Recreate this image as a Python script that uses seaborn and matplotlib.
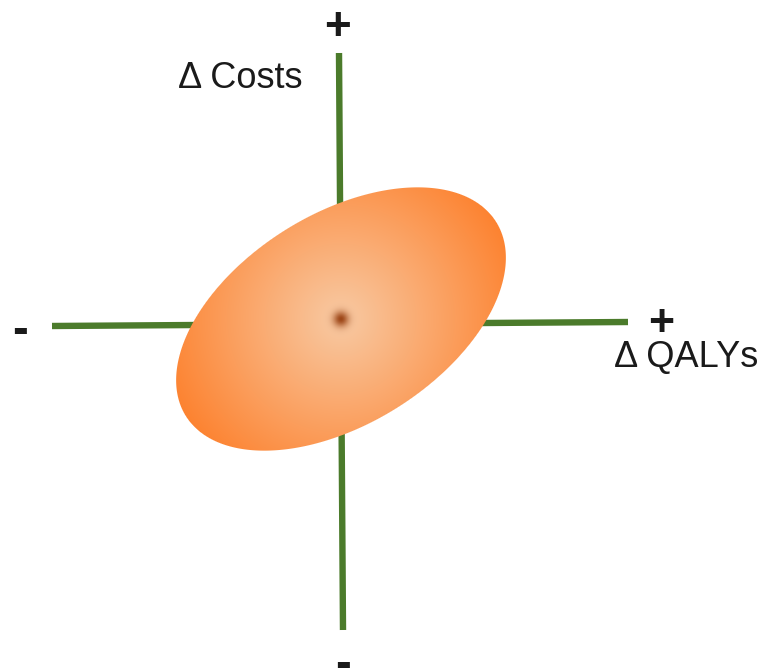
import numpy as np
import pandas as pd
import matplotlib
matplotlib.use('Agg')
import matplotlib.pyplot as plt
import seaborn as sns

# canvas in pixel units (y grows downward)
W, H = 763, 671

# the two axes of the cost-effectiveness plane: (x, y) of both ends
qaly_axis_x = [52, 628]
qaly_axis_y = [326, 322]
cost_axis_x = [339, 343]
cost_axis_y = [53, 630]
axis_color = '#4b7b2b'

# uncertainty cloud: centre, semi axes, tilt (deg)
cloud_centre = (341, 319)
cloud_axes = (183, 105)
cloud_angle = 32
cloud_inner = (248, 202, 164)
cloud_outer = (253, 128, 44)
dot_color = (150, 60, 12)

# labels: text, x, baseline y, size, weight
labels = ['\u0394 Costs', '\u0394 QALYs', '+', '+', '-', '-']
label_x = [240, 686, 337, 661, 20, 343]
label_y = [88, 367, 40, 336, 343, 677]
label_size = [26, 26, 33, 32, 34, 34]
label_weight = ['normal', 'normal', 'bold', 'bold', 'bold', 'bold']

sns.set_style('white')
plt.rcParams['font.family'] = ['Liberation Sans', 'DejaVu Sans']

fig = plt.figure(figsize=(W / 100, H / 100), dpi=100)
ax = fig.add_axes([0, 0, 1, 1])
ax.set_xlim(0, W)
ax.set_ylim(H, 0)
ax.axis('off')

axes_df = pd.DataFrame({
    'x': qaly_axis_x + cost_axis_x,
    'y': qaly_axis_y + cost_axis_y,
    'axis': ['qaly', 'qaly', 'cost', 'cost'],
})
sns.lineplot(data=axes_df, x='x', y='y', units='axis', estimator=None, sort=False,
             color=axis_color, lw=4.6, solid_capstyle='butt', ax=ax)

# gradient-filled ellipse
cx, cy = cloud_centre
a, b = cloud_axes
th = np.deg2rad(cloud_angle)
x0, x1 = int(cx - a - 4), int(cx + a + 4)
y0, y1 = int(cy - a - 4), int(cy + a + 4)
X, Y = np.meshgrid(np.arange(x0, x1) + 0.5, np.arange(y0, y1) + 0.5)
dx, dy = X - cx, Y - cy
u = dx * np.cos(th) - dy * np.sin(th)
v = -dx * np.sin(th) - dy * np.cos(th)
d = np.sqrt((u / a) ** 2 + (v / b) ** 2)
gy, gx = np.gradient(d)
g = np.sqrt(gx ** 2 + gy ** 2) + 1e-9
alpha = np.clip(0.5 + (1 - d) / g, 0, 1)

r = np.sqrt(dx ** 2 + dy ** 2)
t = np.clip(r / 190.0, 0, 1)[..., None]
c0 = np.array(cloud_inner) / 255
c1 = np.array(cloud_outer) / 255
rgb = c0 + (c1 - c0) * t
# soft brown dot at the mean
w = (0.92 * np.exp(-r ** 2 / (2 * 5.5 ** 2)))[..., None]
rgb = rgb * (1 - w) + np.array(dot_color) / 255 * w
img = np.dstack([rgb, alpha])
ax.imshow(img, extent=(x0, x1, y1, y0), origin='upper', interpolation='bilinear', zorder=3)
ax.set_xlim(0, W)
ax.set_ylim(H, 0)

for txt, lx, ly, fs, fw in zip(labels, label_x, label_y, label_size, label_weight):
    ax.text(lx, ly, txt, ha='center', va='baseline', fontsize=fs, fontweight=fw,
            color='#1a1a1a', zorder=4)

fig.savefig('out.png', dpi=100)
